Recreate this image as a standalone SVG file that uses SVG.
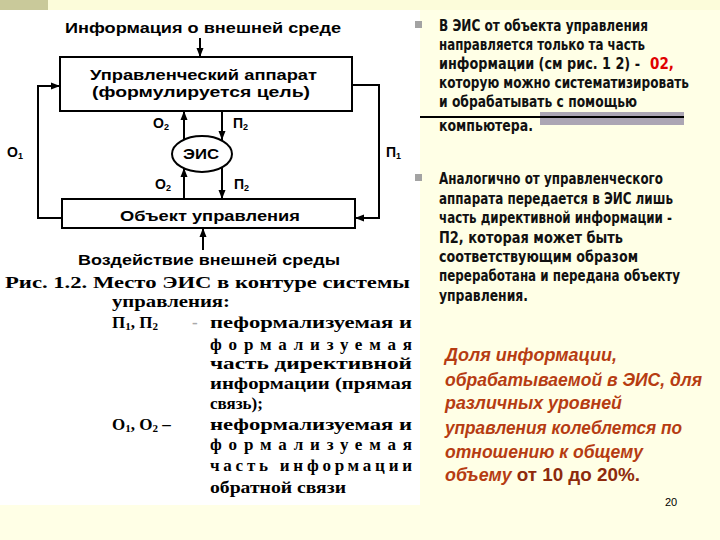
<svg xmlns="http://www.w3.org/2000/svg" width="720" height="540" viewBox="0 0 720 540">
<defs>
<marker id="ah" markerUnits="userSpaceOnUse" markerWidth="10" markerHeight="10" viewBox="0 0 10 10" refX="9" refY="5" orient="auto">
<path d="M0,1.5 L9,5 L0,8.5 Z" fill="#000"/>
</marker>
<style>
.box{fill:#fff;stroke:#000;stroke-width:2}
.con{fill:none;stroke:#000;stroke-width:2;marker-end:url(#ah)}
.d{font-family:"Liberation Sans",Arial,sans-serif;font-weight:bold;font-size:14px;fill:#000}
.cap{font-family:"Liberation Serif","Times New Roman",serif;font-weight:bold;font-size:17px;fill:#000}
.r{font-family:"Liberation Sans Narrow","DejaVu Sans Condensed","Liberation Sans",sans-serif;font-weight:bold;font-size:15px;fill:#111}
.it{font-family:"Liberation Sans",Arial,sans-serif;font-weight:bold;font-style:italic;font-size:18px;fill:#B63C12}
.sub{font-size:9px}
.csub{font-size:11px}
</style>
</defs>
<rect width="720" height="540" fill="#FFFFE6"/>
<rect x="0" y="0" width="720" height="10" fill="#FCFCDA"/>
<rect x="0" y="0" width="48" height="10" fill="#C9C99A"/>
<rect x="0" y="10" width="420" height="495" fill="#fff"/>

<g id="title-top"><text class="d" x="65" y="33" textLength="276" lengthAdjust="spacingAndGlyphs">Информация о внешней среде</text></g>
<g id="box-apparat">
<rect class="box" x="60" y="57" width="292" height="54"/>
<text class="d" x="90" y="80" textLength="227" lengthAdjust="spacingAndGlyphs">Управленческий аппарат</text>
<text class="d" x="92" y="97" textLength="218" lengthAdjust="spacingAndGlyphs">(формулируется цель)</text>
</g>
<g id="eis">
<ellipse cx="202" cy="154" rx="30" ry="18" fill="#fff" stroke="#000" stroke-width="2"/>
<text class="d" x="183" y="159" textLength="36" lengthAdjust="spacingAndGlyphs">ЭИС</text>
</g>
<g id="box-object">
<rect class="box" x="62" y="199" width="293" height="29"/>
<text class="d" x="120" y="221" textLength="180" lengthAdjust="spacingAndGlyphs">Объект управления</text>
</g>
<g id="title-bottom"><text class="d" x="78" y="265" textLength="262" lengthAdjust="spacingAndGlyphs">Воздействие внешней среды</text></g>

<g id="labels">
<text class="d" x="153" y="128">О<tspan class="sub" dy="2">2</tspan></text>
<text class="d" x="233" y="128">П<tspan class="sub" dy="2">2</tspan></text>
<text class="d" x="155" y="189">О<tspan class="sub" dy="2">2</tspan></text>
<text class="d" x="234" y="189">П<tspan class="sub" dy="2">2</tspan></text>
<text class="d" x="7" y="157">О<tspan class="sub" dy="2">1</tspan></text>
<text class="d" x="386" y="157">П<tspan class="sub" dy="2">1</tspan></text>
</g>

<g id="connectors">
<path class="con" d="M200,38 V57"/>
<path class="con" d="M62,218 H38 V86 H60"/>
<path class="con" d="M352,85 H379 V218 H355"/>
<path class="con" d="M184,140 V111"/>
<path class="con" d="M222,111 V140"/>
<path class="con" d="M184,199 V168"/>
<path class="con" d="M222,168 V199"/>
<path class="con" d="M203,250 V228"/>
</g>

<g id="caption">
<text class="cap" x="5" y="288" textLength="405" lengthAdjust="spacingAndGlyphs">Рис. 1.2. Место ЭИС в контуре системы</text>
<text class="cap" x="112" y="307" textLength="118" lengthAdjust="spacingAndGlyphs">управления:</text>
<text class="cap" x="112" y="328">П<tspan class="csub" dy="2">1</tspan><tspan dy="-2">, П</tspan><tspan class="csub" dy="2">2</tspan></text>
<text class="cap" x="192" y="328" style="fill:#aaa">-</text>
<text class="cap" x="210" y="328" textLength="202" lengthAdjust="spacingAndGlyphs">пеформализуемая и</text>
<text class="cap" x="210" y="350" textLength="202" lengthAdjust="spacing">формализуемая</text>
<text class="cap" x="210" y="369" textLength="202" lengthAdjust="spacingAndGlyphs">часть директивной</text>
<text class="cap" x="210" y="389" textLength="202" lengthAdjust="spacingAndGlyphs">информации (прямая</text>
<text class="cap" x="210" y="409">связь);</text>
<text class="cap" x="112" y="430">О<tspan class="csub" dy="2">1</tspan><tspan dy="-2">, О</tspan><tspan class="csub" dy="2">2</tspan><tspan dy="-2"> –</tspan></text>
<text class="cap" x="210" y="430" textLength="202" lengthAdjust="spacingAndGlyphs">неформализуемая и</text>
<text class="cap" x="210" y="450" textLength="202" lengthAdjust="spacing">формализуемая</text>
<text class="cap" x="210" y="471" textLength="202" lengthAdjust="spacing">часть информации</text>
<text class="cap" x="210" y="493" textLength="136" lengthAdjust="spacingAndGlyphs">обратной связи</text>
</g>

<g id="para1">
<rect x="415" y="21" width="7" height="7" fill="#A3A3A3"/>
<rect x="540" y="112" width="144" height="13" fill="#ACA6B4"/>
<line x1="420" y1="117" x2="684" y2="117" stroke="#000" stroke-width="2"/>
<text class="r" x="439" y="31" textLength="209" lengthAdjust="spacingAndGlyphs">В ЭИС от объекта управления</text>
<text class="r" x="439" y="50" textLength="206" lengthAdjust="spacingAndGlyphs">направляется только та часть</text>
<text class="r" x="439" y="69" textLength="201" lengthAdjust="spacingAndGlyphs">информации (см рис. 1 2) -</text>
<text class="r" x="650" y="69" style="fill:#E00000">02,</text>
<text class="r" x="439" y="88" textLength="250" lengthAdjust="spacingAndGlyphs">которую можно систематизировать</text>
<text class="r" x="439" y="107" textLength="198" lengthAdjust="spacingAndGlyphs">и обрабатывать с помощью</text>
<text class="r" x="439" y="131" textLength="94" lengthAdjust="spacingAndGlyphs">компьютера.</text>
</g>

<g id="para2">
<rect x="415" y="174" width="7" height="7" fill="#A3A3A3"/>
<text class="r" x="439" y="184" textLength="224" lengthAdjust="spacingAndGlyphs">Аналогично от управленческого</text>
<text class="r" x="439" y="204" textLength="234" lengthAdjust="spacingAndGlyphs">аппарата передается в ЭИС лишь</text>
<text class="r" x="439" y="223" textLength="233" lengthAdjust="spacingAndGlyphs">часть директивной информации -</text>
<text class="r" x="439" y="243" textLength="184" lengthAdjust="spacingAndGlyphs">П2, которая может быть</text>
<text class="r" x="439" y="262" textLength="199" lengthAdjust="spacingAndGlyphs">соответствующим образом</text>
<text class="r" x="439" y="281" textLength="241" lengthAdjust="spacingAndGlyphs">переработана и передана объекту</text>
<text class="r" x="439" y="301" textLength="89" lengthAdjust="spacingAndGlyphs">управления.</text>
</g>

<g id="para3">
<text class="it" x="445" y="361" textLength="172" lengthAdjust="spacingAndGlyphs">Доля информации,</text>
<text class="it" x="445" y="386" textLength="257" lengthAdjust="spacingAndGlyphs">обрабатываемой в ЭИС, для</text>
<text class="it" x="445" y="409" textLength="177" lengthAdjust="spacingAndGlyphs">различных уровней</text>
<text class="it" x="445" y="434" textLength="237" lengthAdjust="spacingAndGlyphs">управления колеблется по</text>
<text class="it" x="445" y="458" textLength="198" lengthAdjust="spacingAndGlyphs">отношению к общему</text>
<text class="it" x="445" y="481" textLength="195" lengthAdjust="spacingAndGlyphs">объему <tspan style="font-style:normal;fill:#8E2A0C;font-size:19px">от 10 до 20%.</tspan></text>
<text x="665" y="506" style="font-family:'Liberation Sans',Arial,sans-serif;font-size:11px;fill:#000">20</text>
</g>
</svg>
